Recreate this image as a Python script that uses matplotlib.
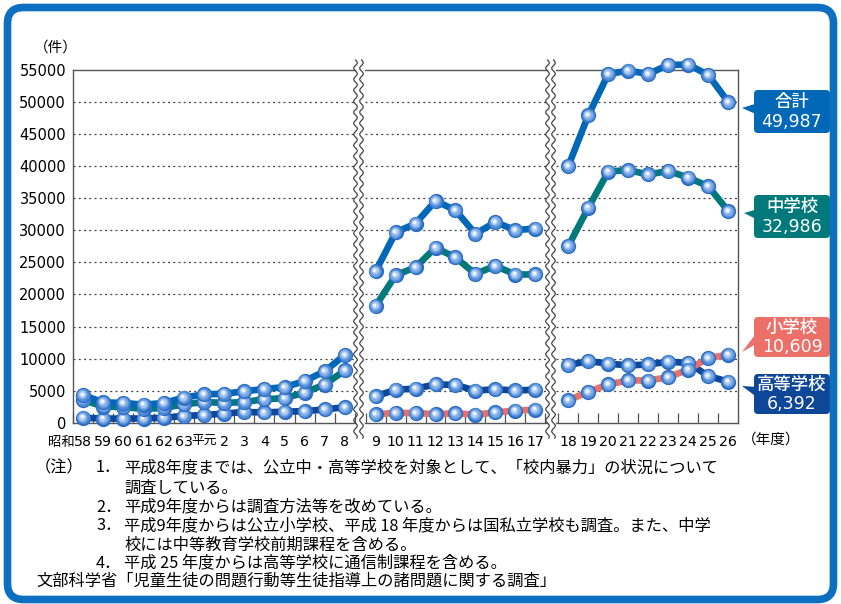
import matplotlib
matplotlib.use('Agg')
import matplotlib.pyplot as plt
import numpy as np
from matplotlib.patches import FancyBboxPatch, Polygon
from matplotlib.transforms import offset_copy, Affine2D
from matplotlib.lines import Line2D
from matplotlib.ticker import FixedLocator

plt.rcParams['font.family'] = ['DejaVu Sans', 'Noto Sans CJK JP']
CJK = ['Noto Sans CJK JP', 'DejaVu Sans']

# ---------------- data ----------------
years_a = ['58', '59', '60', '61', '62', '63', '平元', '2', '3', '4', '5', '6', '7', '8']
middle_a = [3547, 2518, 2441, 2148, 2297, 2858, 3222, 3090, 3217, 3666, 3820, 4693, 5954, 8169]
high_a = [768, 647, 642, 653, 774, 1055, 1194, 1419, 1673, 1594, 1725, 1791, 2077, 2406]
total_a = [4315, 3165, 3083, 2801, 3071, 3913, 4416, 4509, 4890, 5260, 5545, 6484, 8031, 10575]

years_b = ['9', '10', '11', '12', '13', '14', '15', '16', '17']
elem_b = [1304, 1528, 1509, 1331, 1465, 1253, 1600, 1890, 2018]
middle_b = [18209, 22991, 24246, 27293, 25769, 23199, 24463, 23110, 23115]
high_b = [4108, 5152, 5300, 5971, 5896, 5002, 5215, 5022, 5150]
total_b = [23621, 29671, 31055, 34595, 33130, 29454, 31278, 30022, 30283]

years_c = ['18', '19', '20', '21', '22', '23', '24', '25', '26']
elem_c = [3494, 4807, 5966, 6600, 6579, 7092, 8296, 10078, 10609]
middle_c = [27540, 33525, 39161, 39382, 38705, 39251, 38218, 36869, 32986]
high_c = [8985, 9603, 9221, 8926, 9091, 9506, 9322, 7280, 6392]
total_c = [40019, 47935, 54378, 54908, 54375, 55800, 55836, 54227, 49987]

legend_names = ['合計', '中学校', '小学校', '高等学校']
legend_values = ['49,987', '32,986', '10,609', '6,392']

y_ticks = list(range(0, 55001, 5000))

# ---------------- style ----------------
C_TOTAL = '#0068b7'
C_MID = '#00797a'
C_ELEM = '#ec7068'
C_HIGH = '#0f4798'
C_BORDER = '#0d6fc0'
C_SPINE = '#555555'

W, H = 841, 604
fig = plt.figure(figsize=(W / 100, H / 100), dpi=100)
PX = Affine2D().scale(1 / W, -1 / H).translate(0, 1) + fig.transFigure


def fx(px):
    return px / W


def fy(py):
    return 1 - py / H


Y0, Y1 = 422.7, 70.0


def make_ax(x0, x1):
    return fig.add_axes([fx(x0), fy(Y0), (x1 - x0) / W, (Y0 - Y1) / H])


ax_a = make_ax(73, 355)
ax_b = make_ax(364.5, 547)
ax_c = make_ax(556, 738)

ax_a.set_xlim(-0.5, 13.5)
ax_b.set_xlim(-0.56, 8.59)
ax_c.set_xlim(-0.615, 8.485)


def draw_series(ax, vals, color):
    x = np.arange(len(vals))
    ax.plot(x, vals, color=color, lw=4.8, solid_capstyle='round', zorder=3,
            clip_on=False)
    layers = [(11.0, '#2c6cc2', 0.0), (9.2, '#4f8bd6', -0.2),
              (7.2, '#7eaae5', -0.45), (5.0, '#b0cdf0', -0.7),
              (2.8, '#eef4fc', -0.95)]
    for ms, c, off in layers:
        tr = offset_copy(ax.transData, fig=fig, x=off, y=-off, units='points')
        ax.plot(x, vals, ls='none', marker='o', ms=ms, mfc=c, mec=c, mew=0,
                transform=tr, zorder=4, clip_on=False)


for ax, labels in [(ax_a, years_a), (ax_b, years_b), (ax_c, years_c)]:
    n = len(labels)
    ax.set_ylim(0, 55000)
    for s in ax.spines.values():
        s.set_color(C_SPINE)
        s.set_linewidth(1.0)
    ax.spines['right'].set_visible(False)
    ax.spines['left'].set_visible(False)
    for yv in y_ticks[1:-1]:
        ax.axhline(yv, color='#444444', lw=0.9, ls=(0, (1.6, 2.6)), zorder=1)
    ax.set_xticks(np.arange(n))
    ax.set_xticklabels(labels, fontsize=10.2)
    ax.xaxis.set_minor_locator(FixedLocator(np.arange(n + 1) - 0.5))
    ax.tick_params(axis='x', which='major', length=0, pad=9)
    ax.tick_params(axis='x', which='minor', direction='in', length=7,
                   width=0.9, color=C_SPINE)
    ax.set_yticks([])
    ax.patch.set_alpha(0)

# narrower "平元" label
for t in ax_a.get_xticklabels():
    if t.get_text() == '平元':
        t.set_fontsize(9.2)
        t.set_family(CJK)

ax_a.spines['left'].set_visible(True)
ax_a.set_yticks(y_ticks)
ax_a.set_yticklabels([str(v) for v in y_ticks], fontsize=10.5)
ax_a.tick_params(axis='y', length=0, pad=5)
ax_c.spines['right'].set_visible(True)

# series
draw_series(ax_a, high_a, C_HIGH)
draw_series(ax_a, middle_a, C_MID)
draw_series(ax_a, total_a, C_TOTAL)

draw_series(ax_b, high_b, C_HIGH)
draw_series(ax_b, elem_b, C_ELEM)
draw_series(ax_b, middle_b, C_MID)
draw_series(ax_b, total_b, C_TOTAL)

draw_series(ax_c, high_c, C_HIGH)
draw_series(ax_c, elem_c, C_ELEM)
draw_series(ax_c, middle_c, C_MID)
draw_series(ax_c, total_c, C_TOTAL)

# "昭和" prefix
ax_a.annotate('昭和', xy=(0, 0), xycoords=('data', 'axes fraction'),
              xytext=(-6.0, -8.5), textcoords='offset points', ha='right', va='top',
              fontsize=9.6, family=CJK)

# wavy break lines
yy = np.linspace(60, 438, 400)
for xb in [355.5, 361.5, 547.5, 553.5]:
    xx = xb + 1.8 * np.sin(2 * np.pi * (yy - 60) / 11.0)
    fig.add_artist(Line2D(xx, yy, transform=PX, color='#444444', lw=0.9))

# unit labels
fig.text(fx(56), fy(48), '（件）', fontsize=10.5, family=CJK, ha='center', va='center')
fig.text(fx(742), fy(440), '（年度）', fontsize=10.5, family=CJK, ha='left', va='center')

# legend call-out boxes
boxes = [
    (90, 133, C_TOTAL, (742, 108), 103, 115),
    (195, 238, C_MID, (744, 213), 209, 220),
    (317, 357, C_ELEM, (742, 352), 331, 343),
    (374, 414, C_HIGH, (742, 386), 387, 398),
]
for (y_top, y_bot, col, tip, a1, a2), name, val in zip(boxes, legend_names, legend_values):
    fig.add_artist(Polygon([tip, (758, a1), (758, a2)], closed=True, transform=PX,
                           facecolor=col, edgecolor='none'))
    fig.add_artist(FancyBboxPatch((754, y_top), 76, y_bot - y_top,
                                  boxstyle='round,pad=0,rounding_size=4',
                                  transform=PX, facecolor=col, edgecolor='none'))
    ym = (y_top + y_bot) / 2
    fig.text(fx(792), fy(ym - 9.5), name, color='white', fontsize=12.5, family=CJK,
             ha='center', va='center', fontweight='medium')
    fig.text(fx(792), fy(ym + 10), val, color='white', fontsize=12.5,
             ha='center', va='center')

# notes
note_fs = 11.7
fig.text(fx(35), fy(468), '（注）', fontsize=note_fs, family=CJK, va='center')
notes = [
    (96, 468, '1．'), (124, 468, '平成8年度までは、公立中・高等学校を対象として、「校内暴力」の状況について'),
    (124, 488, '調査している。'),
    (96, 507, '2．'), (124, 507, '平成9年度からは調査方法等を改めている。'),
    (96, 526, '3．'), (124, 526, '平成9年度からは公立小学校、平成 18 年度からは国私立学校も調査。また、中学'),
    (124, 545, '校には中等教育学校前期課程を含める。'),
    (96, 563, '4．'), (124, 563, '平成 25 年度からは高等学校に通信制課程を含める。'),
    (36, 581, '文部科学省「児童生徒の問題行動等生徒指導上の諸問題に関する調査」'),
]
for x, y, t in notes:
    fig.text(fx(x), fy(y), t, fontsize=note_fs, family=CJK, va='center')

# outer rounded border
fig.add_artist(FancyBboxPatch((7.5, 7.5), W - 15, H - 12,
                              boxstyle='round,pad=0,rounding_size=16',
                              transform=PX, facecolor='none', edgecolor=C_BORDER,
                              lw=5.5))

fig.savefig('out.png', dpi=100)
